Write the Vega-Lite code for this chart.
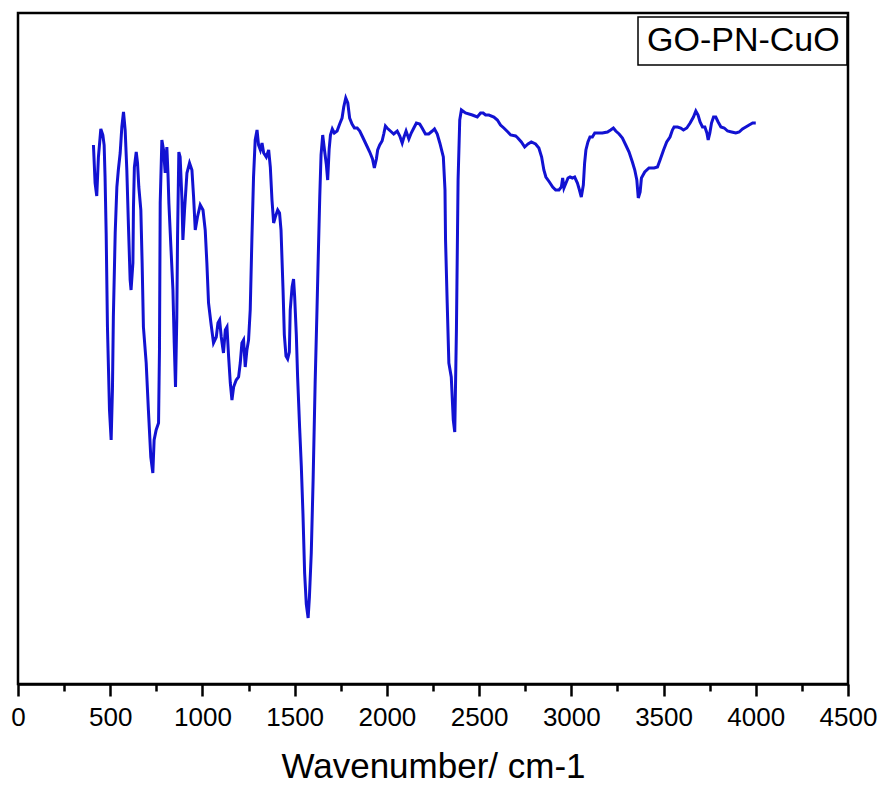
{
  "$schema": "https://vega.github.io/schema/vega-lite/v6.json",
  "autosize": {"type": "none"},
  "width": 830,
  "height": 671,
  "padding": {"left": 18, "top": 13, "right": 38, "bottom": 105},
  "background": "white",
  "config": {
    "view": {"stroke": "black", "strokeWidth": 2.5},
    "font": "Liberation Sans"
  },
  "data": {"values": [
    {"w":409,"t":539},{"w":418,"t":501},{"w":427,"t":488},{"w":436,"t":527},{"w":449,"t":555},{"w":460,"t":549},{"w":467,"t":539},{"w":472,"t":507},{"w":478,"t":451},{"w":485,"t":357},{"w":496,"t":274},{"w":505,"t":244},{"w":512,"t":294},{"w":517,"t":367},{"w":527,"t":451},{"w":536,"t":497},{"w":544,"t":514},{"w":554,"t":531},{"w":563,"t":557},{"w":572,"t":572},{"w":581,"t":554},{"w":590,"t":514},{"w":599,"t":457},{"w":608,"t":404},{"w":613,"t":394},{"w":623,"t":421},{"w":626,"t":477},{"w":631,"t":517},{"w":641,"t":532},{"w":648,"t":521},{"w":655,"t":497},{"w":666,"t":474},{"w":673,"t":421},{"w":680,"t":357},{"w":695,"t":321},{"w":707,"t":274},{"w":720,"t":227},{"w":731,"t":211},{"w":738,"t":244},{"w":749,"t":254},{"w":762,"t":261},{"w":767,"t":334},{"w":771,"t":481},{"w":780,"t":544},{"w":789,"t":534},{"w":798,"t":511},{"w":807,"t":537},{"w":813,"t":511},{"w":818,"t":481},{"w":829,"t":437},{"w":840,"t":394},{"w":847,"t":341},{"w":854,"t":297},{"w":861,"t":367},{"w":865,"t":447},{"w":872,"t":532},{"w":879,"t":527},{"w":889,"t":484},{"w":894,"t":444},{"w":903,"t":474},{"w":916,"t":511},{"w":930,"t":521},{"w":943,"t":514},{"w":952,"t":487},{"w":961,"t":454},{"w":973,"t":467},{"w":988,"t":479},{"w":1003,"t":474},{"w":1015,"t":454},{"w":1024,"t":421},{"w":1033,"t":381},{"w":1046,"t":361},{"w":1060,"t":341},{"w":1075,"t":347},{"w":1084,"t":361},{"w":1093,"t":364},{"w":1102,"t":347},{"w":1114,"t":331},{"w":1124,"t":354},{"w":1133,"t":357},{"w":1142,"t":327},{"w":1151,"t":301},{"w":1160,"t":284},{"w":1169,"t":297},{"w":1183,"t":304},{"w":1196,"t":307},{"w":1205,"t":321},{"w":1214,"t":341},{"w":1223,"t":344},{"w":1232,"t":317},{"w":1241,"t":334},{"w":1250,"t":344},{"w":1259,"t":374},{"w":1268,"t":444},{"w":1277,"t":507},{"w":1286,"t":544},{"w":1296,"t":554},{"w":1304,"t":539},{"w":1314,"t":534},{"w":1323,"t":541},{"w":1332,"t":531},{"w":1346,"t":527},{"w":1359,"t":534},{"w":1368,"t":517},{"w":1377,"t":484},{"w":1386,"t":461},{"w":1395,"t":467},{"w":1408,"t":474},{"w":1418,"t":471},{"w":1426,"t":454},{"w":1437,"t":394},{"w":1444,"t":349},{"w":1453,"t":328},{"w":1462,"t":325},{"w":1471,"t":332},{"w":1476,"t":374},{"w":1486,"t":397},{"w":1494,"t":405},{"w":1500,"t":387},{"w":1509,"t":349},{"w":1516,"t":307},{"w":1527,"t":256},{"w":1536,"t":218},{"w":1545,"t":170},{"w":1554,"t":111},{"w":1563,"t":80},{"w":1573,"t":66},{"w":1580,"t":87},{"w":1590,"t":131},{"w":1600,"t":204},{"w":1611,"t":301},{"w":1621,"t":374},{"w":1628,"t":428},{"w":1636,"t":487},{"w":1643,"t":529},{"w":1652,"t":549},{"w":1661,"t":535},{"w":1672,"t":519},{"w":1679,"t":504},{"w":1687,"t":535},{"w":1694,"t":549},{"w":1704,"t":555},{"w":1715,"t":551},{"w":1730,"t":553},{"w":1744,"t":560},{"w":1757,"t":566},{"w":1766,"t":577},{"w":1777,"t":586},{"w":1788,"t":581},{"w":1798,"t":566},{"w":1811,"t":560},{"w":1824,"t":556},{"w":1839,"t":556},{"w":1853,"t":553},{"w":1871,"t":546},{"w":1889,"t":539},{"w":1907,"t":532},{"w":1922,"t":525},{"w":1932,"t":516},{"w":1943,"t":525},{"w":1950,"t":534},{"w":1961,"t":539},{"w":1974,"t":543},{"w":1983,"t":550},{"w":1992,"t":558},{"w":2001,"t":556},{"w":2019,"t":553},{"w":2037,"t":550},{"w":2056,"t":553},{"w":2070,"t":548},{"w":2083,"t":541},{"w":2091,"t":546},{"w":2104,"t":553},{"w":2119,"t":545},{"w":2132,"t":551},{"w":2146,"t":556},{"w":2160,"t":561},{"w":2178,"t":560},{"w":2191,"t":556},{"w":2209,"t":550},{"w":2227,"t":550},{"w":2246,"t":553},{"w":2258,"t":555},{"w":2273,"t":550},{"w":2287,"t":541},{"w":2306,"t":527},{"w":2315,"t":494},{"w":2318,"t":444},{"w":2327,"t":381},{"w":2336,"t":321},{"w":2349,"t":307},{"w":2360,"t":264},{"w":2368,"t":252},{"w":2377,"t":354},{"w":2386,"t":504},{"w":2395,"t":564},{"w":2404,"t":574},{"w":2426,"t":571},{"w":2463,"t":569},{"w":2490,"t":567},{"w":2508,"t":571},{"w":2522,"t":571},{"w":2535,"t":569},{"w":2553,"t":569},{"w":2580,"t":567},{"w":2599,"t":564},{"w":2616,"t":559},{"w":2634,"t":556},{"w":2656,"t":552},{"w":2671,"t":549},{"w":2698,"t":548},{"w":2710,"t":546},{"w":2729,"t":542},{"w":2747,"t":537},{"w":2765,"t":540},{"w":2783,"t":542},{"w":2806,"t":540},{"w":2824,"t":536},{"w":2839,"t":527},{"w":2851,"t":514},{"w":2862,"t":507},{"w":2881,"t":502},{"w":2899,"t":497},{"w":2915,"t":494},{"w":2933,"t":494},{"w":2946,"t":497},{"w":2953,"t":506},{"w":2960,"t":496},{"w":2971,"t":501},{"w":2982,"t":506},{"w":2993,"t":507},{"w":3006,"t":506},{"w":3018,"t":507},{"w":3033,"t":501},{"w":3044,"t":494},{"w":3054,"t":487},{"w":3065,"t":499},{"w":3072,"t":521},{"w":3079,"t":534},{"w":3090,"t":542},{"w":3101,"t":547},{"w":3114,"t":547},{"w":3127,"t":551},{"w":3141,"t":551},{"w":3168,"t":551},{"w":3196,"t":552},{"w":3213,"t":554},{"w":3228,"t":556},{"w":3241,"t":553},{"w":3259,"t":550},{"w":3277,"t":546},{"w":3295,"t":539},{"w":3313,"t":532},{"w":3331,"t":522},{"w":3344,"t":514},{"w":3355,"t":504},{"w":3363,"t":486},{"w":3373,"t":492},{"w":3380,"t":506},{"w":3389,"t":509},{"w":3398,"t":512},{"w":3421,"t":516},{"w":3449,"t":516},{"w":3467,"t":517},{"w":3481,"t":524},{"w":3500,"t":534},{"w":3517,"t":542},{"w":3535,"t":547},{"w":3548,"t":554},{"w":3557,"t":557},{"w":3576,"t":557},{"w":3593,"t":556},{"w":3608,"t":554},{"w":3626,"t":556},{"w":3644,"t":561},{"w":3662,"t":567},{"w":3675,"t":573},{"w":3687,"t":569},{"w":3698,"t":562},{"w":3711,"t":557},{"w":3724,"t":557},{"w":3735,"t":551},{"w":3742,"t":544},{"w":3751,"t":551},{"w":3760,"t":561},{"w":3771,"t":567},{"w":3783,"t":567},{"w":3796,"t":562},{"w":3811,"t":557},{"w":3829,"t":556},{"w":3847,"t":553},{"w":3869,"t":552},{"w":3892,"t":551},{"w":3910,"t":552},{"w":3928,"t":555},{"w":3946,"t":557},{"w":3964,"t":559},{"w":3983,"t":561},{"w":4000,"t":561}
  ]},
  "mark": {"type": "line", "strokeWidth": 3, "interpolate": "linear"},
  "encoding": {
    "x": {
      "field": "w",
      "type": "quantitative",
      "scale": {"domain": [0, 4500], "nice": false, "zero": false},
      "axis": {
        "title": "Wavenumber/ cm-1",
        "titleFont": "Liberation Sans",
        "titleFontSize": 35,
        "titleFontWeight": "normal",
        "titleColor": "black",
        "titlePadding": 19,
        "values": [0,250,500,750,1000,1250,1500,1750,2000,2250,2500,2750,3000,3250,3500,3750,4000,4250,4500],
        "labelExpr": "datum.value % 500 === 0 ? datum.label : ''",
        "labelOverlap": false,
        "labelFlush": false,
        "labelFont": "Liberation Sans",
        "labelFontSize": 26,
        "labelColor": "black",
        "labelPadding": 8,
        "format": "d",
        "grid": false,
        "domainColor": "black",
        "domainWidth": 2.5,
        "tickColor": "black",
        "tickWidth": 2.5,
        "tickSize": {"condition": {"test": "datum.value % 500 === 0", "value": 12}, "value": 7}
      }
    },
    "y": {
      "field": "t",
      "type": "quantitative",
      "scale": {"domain": [0, 671], "nice": false, "zero": false},
      "axis": null
    },
    "color": {
      "datum": "GO-PN-CuO",
      "type": "nominal",
      "scale": {"range": ["#1212d2"]},
      "legend": {
        "title": null,
        "orient": "none",
        "legendX": 620,
        "legendY": 4,
        "padding": 7,
        "strokeColor": "black",
        "symbolSize": 0,
        "symbolStrokeWidth": 0,
        "symbolOpacity": 0,
        "labelOffset": -32,
        "labelFont": "Liberation Sans",
        "labelFontSize": 34,
        "labelColor": "black",
        "labelLimit": 400,
        "encode": {"legend": {"update": {"strokeWidth": {"value": 1.5}}}}
      }
    }
  }
}
